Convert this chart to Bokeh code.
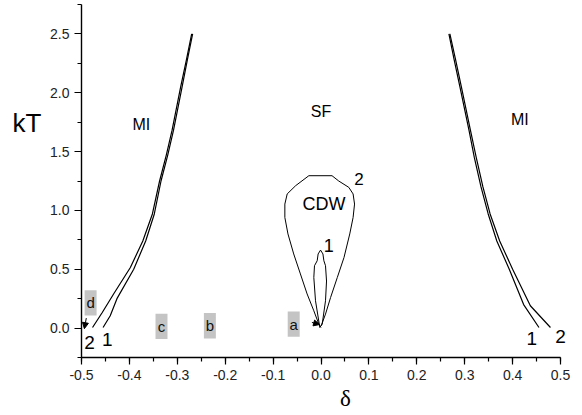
from bokeh.plotting import figure
from bokeh.models import (FixedTicker, PrintfTickFormatter, Label, Arrow, NormalHead,
                          ColumnDataSource, LinearAxis)
from bokeh.core.properties import value
from bokeh.embed import file_html
from bokeh.resources import INLINE

# ---- data ----
left2_x = [-0.477, -0.457, -0.433, -0.398, -0.372, -0.352, -0.337, -0.323, -0.311, -0.293, -0.281, -0.270]
left2_y = [0.005, 0.13, 0.29, 0.515, 0.74, 0.97, 1.25, 1.47, 1.68, 2.05, 2.28, 2.5]
left1_x = [-0.455, -0.440, -0.426, -0.391, -0.366, -0.348, -0.334, -0.320, -0.308, -0.290, -0.279, -0.268]
left1_y = [0.005, 0.105, 0.25, 0.5, 0.74, 0.97, 1.25, 1.47, 1.68, 2.05, 2.28, 2.5]

right2_x = [0.479, 0.437, 0.400, 0.373, 0.353, 0.338, 0.324, 0.312, 0.293, 0.281, 0.269]
right2_y = [0.005, 0.19, 0.5, 0.74, 0.97, 1.2, 1.45, 1.68, 2.05, 2.28, 2.5]
right1_x = [0.455, 0.423, 0.393, 0.367, 0.349, 0.334, 0.320, 0.309, 0.290, 0.278, 0.267]
right1_y = [0.005, 0.2, 0.5, 0.74, 0.97, 1.2, 1.45, 1.68, 2.05, 2.28, 2.5]

cdw2_x = [0.0, -0.0046, -0.015, -0.029, -0.043, -0.057, -0.069, -0.0755, -0.0755, -0.0706, -0.053,
          -0.0254, 0.023, 0.037, 0.058, 0.067, 0.070, 0.067, 0.060, 0.048, 0.034, 0.020, 0.0094, 0.0004]
cdw2_y = [0.005, 0.034, 0.147, 0.29, 0.46, 0.63, 0.80, 0.94, 1.054, 1.14, 1.21,
          1.295, 1.295, 1.25, 1.196, 1.14, 1.054, 0.94, 0.80, 0.60, 0.43, 0.26, 0.119, 0.02]

cdw1_x = [-0.0025, -0.0115, -0.015, -0.0136, -0.008, -0.006, -0.001, 0.004, 0.006, 0.0094, 0.0115, 0.0094, 0.0025, -0.0025]
cdw1_y = [0.005, 0.232, 0.43, 0.53, 0.572, 0.63, 0.663, 0.63, 0.572, 0.53, 0.40, 0.232, 0.034, 0.005]

box_names = ["d", "c", "b", "a"]
box_x = [-0.481, -0.333, -0.232, -0.057]
box_y = [0.215, 0.014, 0.02, 0.034]

x_ticks = [-0.5, -0.4, -0.3, -0.2, -0.1, 0.0, 0.1, 0.2, 0.3, 0.4, 0.5]
y_ticks = [0.0, 0.5, 1.0, 1.5, 2.0, 2.5]

# ---- figure ----
p = figure(width=582, height=415, x_range=(-0.5, 0.525), y_range=(-0.25, 2.75),
           output_backend="svg", toolbar_location=None,
           min_border_left=81, min_border_right=10, min_border_top=4, min_border_bottom=58)
p.outline_line_color = None
p.grid.visible = False
p.background_fill_color = "white"

x_minor = [round(-0.5 + 0.05 * i, 3) for i in range(21)]
y_minor = [round(-0.25 + 0.25 * i, 3) for i in range(13)]
p.xaxis.ticker = FixedTicker(ticks=x_ticks, minor_ticks=x_minor)
p.yaxis.ticker = FixedTicker(ticks=y_ticks, minor_ticks=y_minor)
p.xaxis.formatter = PrintfTickFormatter(format="%.1f")
p.yaxis.formatter = PrintfTickFormatter(format="%.1f")
p.xaxis.bounds = (-0.5, 0.5)
for ax in (p.xaxis, p.yaxis):
    ax.axis_line_color = "black"
    ax.axis_line_width = 1.4
    ax.major_tick_line_color = "black"
    ax.minor_tick_line_color = "black"
    ax.major_tick_line_width = 1.2
    ax.minor_tick_line_width = 1.2
    ax.major_tick_out = 7
    ax.major_tick_in = 0
    ax.minor_tick_out = 4
    ax.minor_tick_in = 0
    ax.major_label_text_font = "Liberation Sans"
    ax.major_label_text_font_size = "14px"
    ax.major_label_text_color = "#222222"
    ax.major_label_standoff = 5

# axis titles placed as single tick labels of label-only axes
ylab_axis = LinearAxis(ticker=FixedTicker(ticks=[1.74], minor_ticks=[]),
                       formatter=PrintfTickFormatter(format="kT"),
                       axis_line_color=None, major_tick_line_color=None,
                       minor_tick_line_color=None, major_tick_out=0, minor_tick_out=0,
                       major_label_text_font="Liberation Sans",
                       major_label_text_font_size="26px",
                       major_label_text_color="black", major_label_standoff=6)
p.add_layout(ylab_axis, "left")
xlab_axis = LinearAxis(ticker=FixedTicker(ticks=[0.051], minor_ticks=[]),
                       formatter=PrintfTickFormatter(format="δ"),
                       axis_line_color=None, major_tick_line_color=None,
                       minor_tick_line_color=None, major_tick_out=0, minor_tick_out=0,
                       major_label_text_font="Liberation Serif",
                       major_label_text_font_size="23px",
                       major_label_text_color="black", major_label_standoff=3)
p.add_layout(xlab_axis, "below")

lw = 1.2
p.line(left2_x, left2_y, line_color="black", line_width=lw)
p.line(left1_x, left1_y, line_color="black", line_width=lw)
p.line(right2_x, right2_y, line_color="black", line_width=lw)
p.line(right1_x, right1_y, line_color="black", line_width=lw)
p.line(cdw2_x, cdw2_y, line_color="black", line_width=1.0)
p.line(cdw1_x, cdw1_y, line_color="black", line_width=1.0)

src = ColumnDataSource(dict(x=box_x, y=box_y, t=box_names))
p.rect(x="x", y="y", width=0.025, height=0.215, source=src,
       fill_color="#c4c4c4", line_color=None)
p.text(x="x", y="y", text="t", source=src, text_font=value("Liberation Sans"),
       text_font_size="15px", text_align="center", text_baseline="middle",
       text_color="#111111")

# arrows
p.add_layout(Arrow(end=NormalHead(size=6, fill_color="black", line_color="black"),
                   x_start=-0.019, y_start=0.048, x_end=-0.003, y_end=0.03,
                   line_color="black", line_width=1))
p.add_layout(Arrow(end=NormalHead(size=6, fill_color="black", line_color="black"),
                   x_start=-0.490, y_start=0.085, x_end=-0.494, y_end=-0.005,
                   line_color="black", line_width=1))

def lab(x, y, t, size, font="Liberation Sans"):
    p.add_layout(Label(x=x, y=y, text=t, text_font=font, text_font_size=size,
                       text_align="center", text_baseline="middle", text_color="black"))

lab(-0.375, 1.73, "MI", "16px")
lab(0.415, 1.77, "MI", "16px")
lab(0.0, 1.84, "SF", "16px")
lab(0.006, 1.054, "CDW", "18px")
lab(0.079, 1.27, "2", "17px")
lab(0.016, 0.70, "1", "18px")
lab(-0.483, -0.12, "2", "19px")
lab(-0.446, -0.10, "1", "19px")
lab(0.44, -0.09, "1", "19px")
lab(0.50, -0.07, "2", "19px")

open("out.html", "w").write(file_html(p, INLINE))
